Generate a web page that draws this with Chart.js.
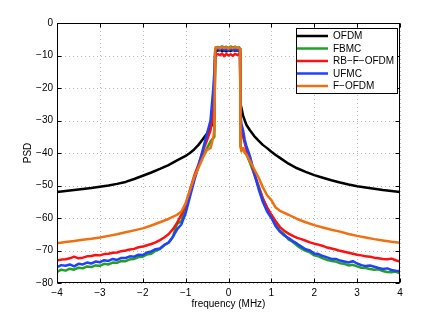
<!DOCTYPE html>
<html>
<head>
<meta charset="utf-8">
<script src="https://cdn.jsdelivr.net/npm/chart.js@4/dist/chart.umd.min.js"></script>
<style>
html,body{margin:0;padding:0;background:#fff;}
canvas{display:block;}
</style>
</head>
<body>
<canvas id="c" width="443" height="318"></canvas>
<script>
// frequency grid for the smooth curves (OFDM, F-OFDM)
const freq = [-4.0,-3.8,-3.6,-3.4,-3.2,-3.0,-2.8,-2.6,-2.4,-2.2,-2.0,-1.8,-1.6,-1.4,-1.2,
  -1.1,-1.0,-0.9,-0.8,-0.7,-0.6,-0.5,-0.42,-0.36,-0.33,-0.31,-0.3,
  -0.25,-0.2,-0.15,-0.1,-0.05,0,0.05,0.1,0.15,0.2,0.25,
  0.27,0.28,0.3,0.34,0.38,0.42,0.5,0.6,0.7,0.8,0.9,1.0,1.1,1.2,
  1.4,1.6,1.8,2.0,2.2,2.4,2.6,2.8,3.0,3.2,3.4,3.6,3.8,4.0];

// finer frequency grid for the noisier curves (FBMC, RB-F-OFDM, UFMC)
const freqFine = [-4.0,-3.9,-3.8,-3.7,-3.6,-3.5,-3.4,-3.3,-3.2,-3.1,-3.0,-2.9,-2.8,-2.7,-2.6,-2.5,-2.4,-2.3,-2.2,-2.1,-2.0,-1.9,-1.8,-1.7,-1.6,-1.5,-1.4,-1.3,-1.2,
  -1.1,-1.0,-0.9,-0.8,-0.7,-0.6,-0.5,-0.42,-0.36,-0.33,-0.31,-0.3,
  -0.25,-0.2,-0.15,-0.1,-0.05,0,0.05,0.1,0.15,0.2,0.25,
  0.27,0.28,0.3,0.34,0.38,0.42,0.5,0.6,0.7,0.8,0.9,1.0,1.1,
  1.2,1.3,1.4,1.5,1.6,1.7,1.8,1.9,2.0,2.1,2.2,2.3,2.4,2.5,2.6,2.7,2.8,2.9,3.0,3.1,3.2,3.3,3.4,3.5,3.6,3.7,3.8,3.9,4.0];

const ofdm = [-52.0,-51.7,-51.4,-51.1,-50.8,-50.4,-50.0,-49.5,-48.9,-48.0,-47.0,-46.0,-44.9,-43.7,-42.3,
  -41.6,-40.9,-40.0,-38.9,-37.5,-35.8,-34.0,-32.2,-30.5,-29.5,-9.0,-8.2,
  -8.5,-8.3,-8.6,-8.4,-8.7,-8.4,-8.6,-8.3,-8.5,-8.4,-8.6,
  -9.0,-25.0,-26.0,-28.5,-30.0,-31.4,-33.0,-34.8,-36.2,-37.5,-38.5,-39.6,-40.6,-41.5,
  -43.3,-44.7,-45.8,-46.8,-47.6,-48.4,-49.1,-49.7,-50.2,-50.6,-51.0,-51.4,-51.7,-52.0];

const fbmc = [-76.6,-75.9,-76.2,-75.6,-75.9,-75.3,-75.5,-74.9,-75.1,-74.6,-74.7,-74.1,-74.3,-73.7,-73.8,-73.2,-73.3,-72.7,-72.6,-72.0,-71.9,-71.2,-71.0,-70.1,-69.6,-68.4,-67.6,-65.8,-61.8,
  -61.0,-56.5,-52.5,-48.0,-44.0,-41.0,-38.5,-36.5,-35.5,-35.0,-8.0,-7.5,
  -7.4,-7.6,-7.2,-7.5,-7.3,-7.7,-7.2,-7.5,-7.3,-7.6,-7.5,
  -8.0,-38.0,-38.5,-38.5,-39.5,-40.5,-43.0,-46.5,-50.0,-54.0,-57.0,-59.5,-62.0,
  -63.9,-65.0,-66.6,-67.4,-68.5,-69.4,-70.1,-70.6,-71.5,-71.8,-72.4,-72.9,-73.2,-73.4,-73.9,-74.1,-74.6,-74.4,-74.9,-75.3,-75.4,-75.7,-75.9,-75.8,-76.3,-76.6,-76.7,-76.5,-77.0];

const rbfofdm = [-73.1,-72.8,-72.7,-72.4,-71.9,-72.4,-72.2,-71.8,-71.7,-71.4,-71.5,-71.1,-71.0,-70.7,-70.6,-70.2,-70.0,-69.7,-69.5,-69.0,-68.8,-68.4,-68.0,-67.5,-66.8,-66.0,-65.0,-63.5,-61.5,
  -59.0,-56.0,-51.5,-47.0,-43.5,-39.5,-36.0,-33.0,-28.0,-22.0,-10.0,-9.5,
  -9.6,-9.9,-9.4,-10.2,-9.5,-10.0,-9.6,-10.1,-9.5,-9.8,-9.6,
  -10.0,-30.0,-33.0,-35.0,-37.0,-39.0,-41.5,-46.5,-50.5,-54.0,-56.7,-59.0,-61.0,
  -62.8,-63.9,-64.8,-65.5,-66.1,-66.5,-67.0,-67.5,-67.9,-68.2,-68.6,-69.1,-69.4,-69.7,-70.1,-70.4,-70.7,-71.0,-71.3,-71.5,-71.8,-71.9,-72.2,-72.4,-72.6,-72.7,-72.5,-73.0,-73.4];

const ufmc = [-75.1,-74.5,-74.7,-74.3,-74.9,-74.1,-74.3,-73.7,-74.0,-73.4,-73.6,-73.0,-73.2,-72.6,-72.9,-72.3,-72.3,-71.8,-71.9,-71.3,-71.4,-70.6,-70.3,-69.6,-69.4,-68.3,-67.6,-65.9,-63.5,
  -62.0,-58.5,-53.5,-48.5,-44.0,-39.0,-34.0,-30.0,-21.0,-15.0,-8.5,-8.0,
  -8.0,-8.3,-7.9,-8.4,-8.1,-8.5,-8.0,-8.3,-8.1,-8.4,-8.2,
  -9.0,-28.0,-31.0,-33.0,-36.0,-38.0,-41.0,-46.0,-51.0,-55.0,-58.0,-60.0,-62.5,
  -64.2,-65.4,-66.2,-67.1,-67.9,-68.8,-69.6,-70.0,-70.9,-71.1,-71.7,-72.1,-72.6,-72.6,-73.1,-73.4,-73.7,-73.3,-74.0,-74.5,-74.8,-74.6,-75.0,-75.4,-75.7,-75.5,-76.0,-76.2,-76.3];

const fofdm = [-67.8,-67.4,-67.1,-66.7,-66.4,-66.0,-65.5,-65.0,-64.4,-63.8,-63.2,-62.3,-61.3,-60.3,-59.0,
  -58.0,-55.5,-51.5,-47.5,-44.5,-41.5,-39.0,-38.5,-35.5,-33.0,-8.0,-7.5,
  -7.5,-7.8,-7.4,-7.7,-7.5,-7.9,-7.5,-7.7,-7.4,-7.6,-7.8,
  -8.0,-38.0,-39.5,-38.5,-40.0,-40.5,-42.5,-45.0,-47.5,-50.5,-53.0,-54.5,-56.8,-57.8,
  -59.0,-60.3,-61.3,-62.2,-62.9,-63.6,-64.2,-64.9,-65.5,-66.0,-66.5,-66.9,-67.3,-67.6];

const seriesLabels = ['OFDM','FBMC','RB\u2212F\u2212OFDM','UFMC','F\u2212OFDM'];
const seriesValues = [ofdm, fbmc, rbfofdm, ufmc, fofdm];
const seriesFreq = [freq, freqFine, freqFine, freqFine, freq];
const seriesColors = ['#000000','#22a022','#ff1010','#2040ff','#f07010'];
const drawOrder = [4,3,2,1,0];
const xTicks = [-4,-3,-2,-1,0,1,2,3,4];
const yTicks = [0,-10,-20,-30,-40,-50,-60,-70,-80];
const xTitle = 'frequency (MHz)';
const yTitle = 'PSD';

const FONT = '"Liberation Sans", Arial, Helvetica, sans-serif';
const fmt = v => (v < 0 ? '\u2212' + Math.abs(v) : String(v));

const datasets = seriesValues.map((vals, i) => ({
  label: seriesLabels[i],
  data: seriesFreq[i].map((f, j) => ({x: f, y: vals[j]})),
  borderColor: seriesColors[i],
  backgroundColor: seriesColors[i],
  borderWidth: 2.5,
  pointRadius: 0,
  tension: 0,
  fill: false,
  borderJoinStyle: 'round',
  order: drawOrder[i]
}));

const framePlugin = {
  id: 'frame',
  beforeDatasetsDraw(chart) {
    const {ctx, chartArea: a, scales: {x, y}} = chart;
    ctx.save();
    ctx.strokeStyle = '#b8b8b8';
    ctx.lineWidth = 1;
    ctx.setLineDash([1, 3]);
    xTicks.forEach(t => {
      const px = Math.round(x.getPixelForValue(t)) + 0.5;
      ctx.beginPath(); ctx.moveTo(px, a.top); ctx.lineTo(px, a.bottom); ctx.stroke();
    });
    yTicks.forEach(t => {
      const py = Math.round(y.getPixelForValue(t)) + 0.5;
      ctx.beginPath(); ctx.moveTo(a.left, py); ctx.lineTo(a.right, py); ctx.stroke();
    });
    ctx.restore();
  },
  afterDatasetsDraw(chart) {
    const {ctx, chartArea: a, scales: {x, y}} = chart;
    ctx.save();
    ctx.strokeStyle = '#000';
    ctx.lineWidth = 1;
    ctx.setLineDash([]);
    const L = Math.round(a.left) + 0.5, R = Math.round(a.right) - 0.5;
    const T = Math.round(a.top) + 0.5, B = Math.round(a.bottom) - 0.5;
    ctx.strokeRect(L, T, R - L, B - T);
    const tl = 4;
    ctx.beginPath();
    xTicks.forEach(t => {
      const px = Math.round(x.getPixelForValue(t)) + 0.5;
      ctx.moveTo(px, B); ctx.lineTo(px, B - tl);
      ctx.moveTo(px, T); ctx.lineTo(px, T + tl);
    });
    yTicks.forEach(t => {
      const py = Math.round(y.getPixelForValue(t)) + 0.5;
      ctx.moveTo(L, py); ctx.lineTo(L + tl, py);
      ctx.moveTo(R, py); ctx.lineTo(R - tl, py);
    });
    ctx.stroke();
    ctx.restore();
  },
  afterDraw(chart) {
    const {ctx} = chart;
    const bx = 296.5, by = 28.5, bw = 101, bh = 65;
    ctx.save();
    ctx.fillStyle = '#fff';
    ctx.fillRect(bx, by, bw, bh);
    ctx.strokeStyle = '#000';
    ctx.lineWidth = 1;
    ctx.strokeRect(bx, by, bw, bh);
    ctx.font = '10px ' + FONT;
    ctx.textBaseline = 'middle';
    ctx.textAlign = 'left';
    seriesLabels.forEach((lab, i) => {
      const ry = 36 + i * 12.5;
      ctx.strokeStyle = seriesColors[i];
      ctx.lineWidth = 2.5;
      ctx.beginPath(); ctx.moveTo(297, ry); ctx.lineTo(328, ry); ctx.stroke();
      ctx.fillStyle = '#000';
      ctx.fillText(lab, 333, ry + 0.5);
    });
    ctx.restore();
  }
};

new Chart(document.getElementById('c'), {
  type: 'line',
  data: {datasets},
  options: {
    responsive: false,
    animation: false,
    devicePixelRatio: 1,
    layout: {padding: {left: 0, top: 23, right: 43, bottom: 0}},
    plugins: {legend: {display: false}, tooltip: {enabled: false}},
    scales: {
      x: {
        type: 'linear', min: -4, max: 4,
        afterBuildTicks: s => { s.ticks = xTicks.map(v => ({value: v})); },
        afterFit: s => { s.height = 35; },
        grid: {display: false, drawTicks: false},
        border: {display: false},
        ticks: {padding: 4, color: '#000', font: {family: FONT, size: 10}, callback: fmt, maxRotation: 0, autoSkip: false},
        title: {display: true, text: xTitle, color: '#000', font: {family: FONT, size: 10}, padding: {top: 2, bottom: 8}}
      },
      y: {
        type: 'linear', min: -80, max: 0,
        afterBuildTicks: s => { s.ticks = yTicks.map(v => ({value: v})); },
        afterFit: s => { s.width = 57; },
        grid: {display: false, drawTicks: false},
        border: {display: false},
        ticks: {padding: 4, color: '#000', font: {family: FONT, size: 10}, callback: fmt, autoSkip: false},
        title: {display: true, text: yTitle, color: '#000', font: {family: FONT, size: 10}, padding: {top: 22, bottom: 0}}
      }
    }
  },
  plugins: [framePlugin]
});
</script>
</body>
</html>
